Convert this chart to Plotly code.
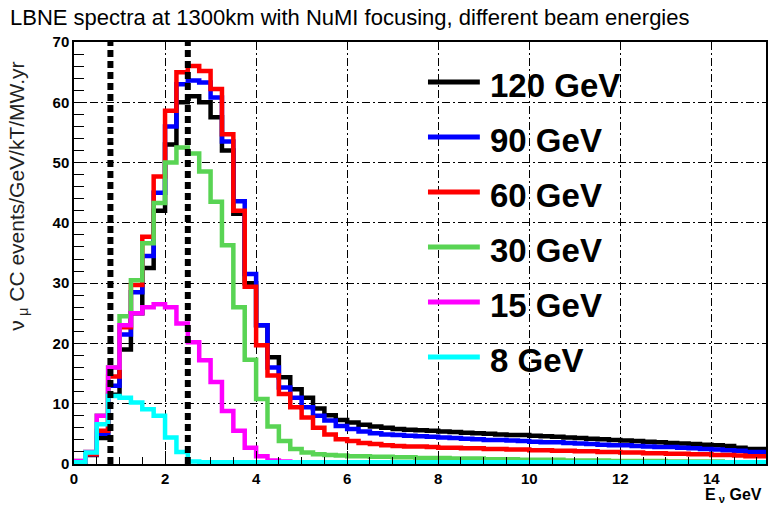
import plotly.graph_objects as go

# Neutrino energy binning (GeV)
bin_width = 0.25
n_bins = 61
bin_edges = [round(i * bin_width, 2) for i in range(n_bins + 1)]

beam_labels = ["120 GeV", "90 GeV", "60 GeV", "30 GeV", "15 GeV", "8 GeV"]
beam_colors = ["#000000", "#0000ff", "#ff0000", "#59d454", "#ff00ff", "#00ffff"]

# numu CC events / GeV / kT / MW.yr for each proton beam energy
rate_120 = [0.3, 1.5, 4.3, 11.5, 19.0, 25.0, 32.5, 42.0, 53.0, 60.0, 61.0, 60.0,
            57.5, 52.0, 41.5, 30.0, 23.0, 17.7, 14.4, 12.4, 11.0, 9.2, 8.1, 7.3,
            6.9, 6.5, 6.2, 6.0, 5.8, 5.7, 5.6, 5.5, 5.4, 5.3, 5.2, 5.1,
            5.0, 4.9, 4.8, 4.8, 4.7, 4.6, 4.5, 4.4, 4.3, 4.2, 4.1, 4.0,
            3.9, 3.8, 3.7, 3.6, 3.5, 3.4, 3.3, 3.2, 3.1, 3.0, 2.7, 2.5, 2.5]
rate_90 = [0.3, 1.6, 5.0, 13.0, 21.5, 28.5, 34.5, 45.0, 56.0, 63.0, 63.6, 63.3,
           60.8, 53.5, 43.6, 31.5, 23.0, 16.0, 12.7, 11.0, 9.4, 8.0, 7.2, 6.3,
           5.8, 5.4, 5.1, 4.9, 4.8, 4.7, 4.6, 4.5, 4.4, 4.3, 4.2, 4.1,
           4.0, 4.0, 3.9, 3.8, 3.7, 3.6, 3.6, 3.5, 3.4, 3.3, 3.2, 3.1,
           3.1, 3.0, 2.9, 2.8, 2.8, 2.7, 2.6, 2.5, 2.4, 2.3, 2.2, 2.0, 2.0]
rate_60 = [0.3, 1.6, 5.5, 14.5, 22.7, 29.7, 37.7, 47.7, 58.6, 65.0, 66.0, 65.2,
           62.2, 54.7, 42.0, 29.4, 19.7, 14.7, 11.6, 9.4, 7.7, 6.0, 4.9, 4.1,
           3.8, 3.5, 3.3, 3.1, 3.0, 2.9, 2.9, 2.8, 2.7, 2.7, 2.6, 2.6,
           2.5, 2.5, 2.4, 2.4, 2.3, 2.3, 2.2, 2.2, 2.1, 2.1, 2.0, 2.0,
           1.9, 1.9, 1.8, 1.8, 1.7, 1.7, 1.6, 1.6, 1.5, 1.5, 1.4, 1.3, 1.3]
rate_30 = [0.5, 2.0, 8.0, 16.0, 24.5, 30.5, 36.6, 43.3, 50.0, 52.5, 51.5, 48.5,
           43.5, 36.3, 26.0, 17.3, 10.8, 6.2, 3.8, 2.5, 1.9, 1.6, 1.5, 1.4,
           1.3, 1.3, 1.2, 1.2, 1.1, 1.1, 1.0, 1.0, 1.0, 0.9, 0.9, 0.9,
           0.8, 0.8, 0.8, 0.7, 0.7, 0.7, 0.7, 0.6, 0.6, 0.6, 0.6, 0.5,
           0.5, 0.5, 0.5, 0.5, 0.4, 0.4, 0.4, 0.4, 0.4, 0.3, 0.3, 0.3, 0.3]
rate_15 = [0.5, 2.0, 8.0, 16.0, 23.0, 25.0, 26.0, 26.5, 26.0, 23.3, 20.2, 17.2,
           13.6, 8.8, 5.5, 2.7, 1.3, 0.6, 0.4, 0.3, 0.3, 0.3, 0.3, 0.3,
           0.3, 0.3, 0.3, 0.2, 0.2, 0.2, 0.2, 0.2, 0.2, 0.2, 0.2, 0.2,
           0.2, 0.2, 0.2, 0.2, 0.2, 0.2, 0.2, 0.2, 0.2, 0.2, 0.2, 0.2,
           0.2, 0.2, 0.2, 0.2, 0.2, 0.2, 0.2, 0.2, 0.2, 0.2, 0.2, 0.2, 0.2]
rate_8 = [0.3, 1.9, 6.6, 11.3, 11.0, 10.2, 9.1, 8.0, 4.4, 2.0, 0.4, 0.3,
          0.3, 0.3, 0.3, 0.3, 0.3, 0.3, 0.3, 0.3, 0.3, 0.3, 0.3, 0.3,
          0.3, 0.3, 0.3, 0.3, 0.3, 0.3, 0.3, 0.3, 0.3, 0.3, 0.3, 0.3,
          0.3, 0.3, 0.3, 0.3, 0.3, 0.3, 0.3, 0.3, 0.3, 0.3, 0.3, 0.3,
          0.3, 0.3, 0.3, 0.3, 0.3, 0.3, 0.3, 0.3, 0.3, 0.3, 0.3, 0.3, 0.3]
rates = [rate_120, rate_90, rate_60, rate_30, rate_15, rate_8]

# First two oscillation maxima at 1300 km (GeV)
osc_maxima = [0.8, 2.5]

x_range = [0, 15.2]
y_range = [0, 70]

FONT = "Liberation Sans, Arial, Helvetica, sans-serif"

fig = go.Figure()

for label, color, vals in zip(beam_labels, beam_colors, rates):
    fig.add_trace(go.Scatter(
        x=bin_edges,
        y=vals + [vals[-1]],
        mode="lines",
        line=dict(color=color, width=4.5, shape="hv"),
        name=label,
        showlegend=False,
        hoverinfo="skip",
    ))

# Oscillation-maximum markers
for xm in osc_maxima:
    fig.add_shape(type="line", xref="x", yref="y", x0=xm, x1=xm,
                  y0=y_range[0], y1=y_range[1], layer="above",
                  line=dict(color="black", width=6, dash="7px,4px"))

# Legend panel
L_LEFT, L_RIGHT = 418, 713          # pixel extents inside the frame
L_TOP, L_BOTTOM = 52, 385
PLOT_L, PLOT_W, PLOT_B, PLOT_H = 74, 694, 464, 422


def px_x(px):
    return (px - PLOT_L) / PLOT_W


def px_y(py):
    return (PLOT_B - py) / PLOT_H


fig.add_shape(type="rect", xref="paper", yref="paper",
              x0=px_x(L_LEFT), x1=px_x(L_RIGHT), y0=px_y(L_BOTTOM), y1=px_y(L_TOP),
              fillcolor="white", line=dict(width=0), layer="between")

for i, (label, color) in enumerate(zip(beam_labels, beam_colors)):
    yc = 85 + 55 * i
    fig.add_shape(type="line", xref="paper", yref="paper",
                  x0=px_x(429), x1=px_x(481), y0=px_y(yc - 3), y1=px_y(yc - 3),
                  line=dict(color=color, width=5), layer="above")
    fig.add_annotation(xref="paper", yref="paper", x=px_x(489), y=px_y(yc),
                       xanchor="left", yanchor="middle", text=label, showarrow=False,
                       font=dict(family=FONT, size=33, color="black", weight="bold"))

# Axis titles
fig.add_annotation(xref="paper", yref="paper", x=px_x(17), y=px_y(60),
                   xanchor="center", yanchor="top", textangle=-90, showarrow=False,
                   text="ν<sub> μ</sub> CC events/GeV/kT/MW.yr",
                   font=dict(family=FONT, size=21, color="#222222"))
fig.add_annotation(xref="paper", yref="paper", x=px_x(766), y=px_y(495),
                   xanchor="right", yanchor="middle", showarrow=False,
                   text="E<sub> ν</sub> GeV",
                   font=dict(family=FONT, size=16, color="black", weight="bold"))

grid_style = dict(showgrid=True, gridcolor="black", gridwidth=1,
                  griddash="8px,3px,2px,3px")
tick_font = dict(family=FONT, size=15, color="black", weight="bold")

fig.update_xaxes(range=x_range, dtick=2, tick0=0, ticks="inside", ticklen=13,
                 tickwidth=1, tickcolor="black", showline=True, linecolor="black",
                 linewidth=1.5, mirror=True, zeroline=False,
                 minor=dict(dtick=0.5, ticks="inside", ticklen=7, tickcolor="black",
                            showgrid=False),
                 tickfont=tick_font, **grid_style)
fig.update_yaxes(range=y_range, dtick=10, tick0=0, ticks="inside", ticklen=12,
                 tickwidth=1, tickcolor="black", showline=True, linecolor="black",
                 linewidth=1.5, mirror=True, zeroline=False,
                 minor=dict(dtick=2, ticks="inside", ticklen=10, tickcolor="black",
                            showgrid=False),
                 tickfont=tick_font, **grid_style)

fig.update_layout(
    width=775, height=508,
    margin=dict(l=PLOT_L, r=775 - PLOT_L - PLOT_W, t=PLOT_B - PLOT_H, b=508 - PLOT_B),
    paper_bgcolor="white", plot_bgcolor="white",
    title=dict(text="LBNE spectra at 1300km with NuMI focusing, different beam energies",
               xref="container", yref="container", x=10 / 775, y=1 - 17 / 508,
               xanchor="left", yanchor="middle",
               font=dict(family=FONT, size=22, color="black")),
    showlegend=False,
)

fig.write_html("out.html")
